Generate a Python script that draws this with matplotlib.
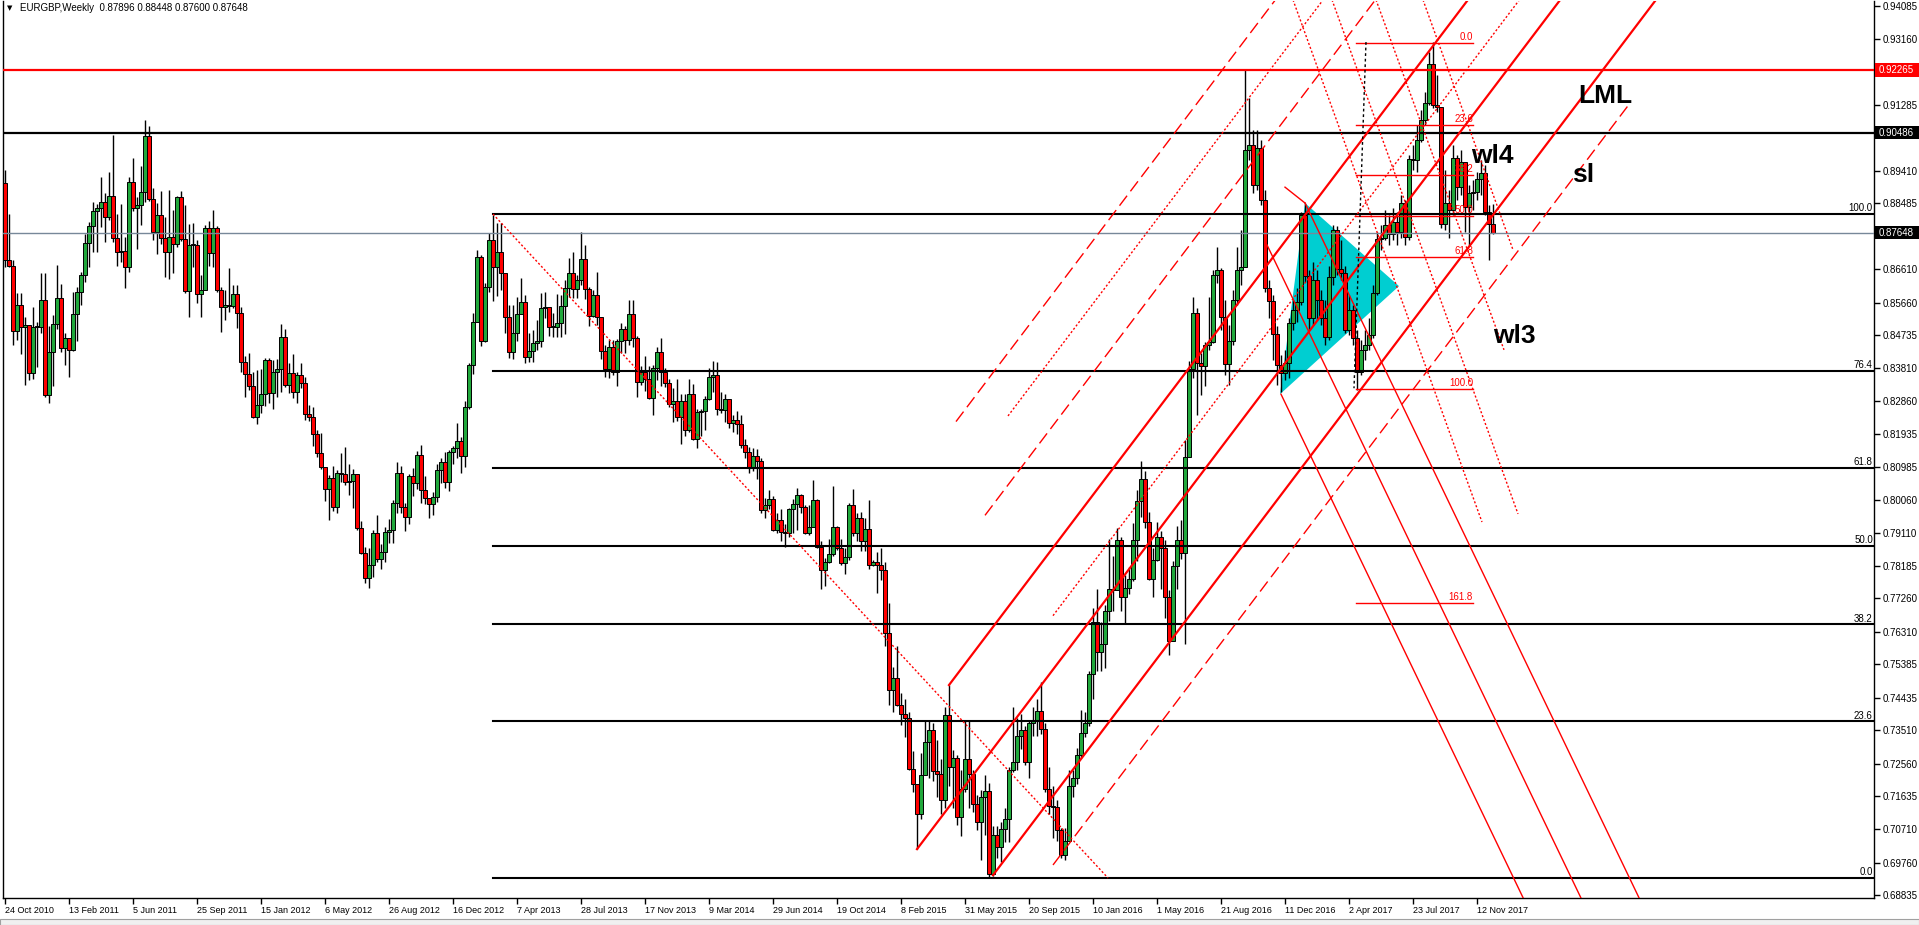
import matplotlib
matplotlib.use("Agg")
import matplotlib.pyplot as plt
import matplotlib.transforms as mtransforms
from matplotlib.patches import Polygon, Rectangle

plt.rcParams['font.family'] = ['Liberation Sans', 'DejaVu Sans']
plt.rcParams['lines.scale_dashes'] = False

# ---- weekly EURGBP candles, open = previous close ----
first_open = 0.8906
closes = [
    0.8687, 0.8670, 0.8486, 0.8559, 0.8497, 0.8502, 0.8366, 0.8497, 0.8497, 0.8574,
    0.8304, 0.8426, 0.8505, 0.8579, 0.8437, 0.8466, 0.8432, 0.8534, 0.8596, 0.8645,
    0.8735, 0.8784, 0.8826, 0.8835, 0.8852, 0.8809, 0.8869, 0.8750, 0.8710, 0.8713,
    0.8667, 0.8909, 0.8835, 0.8843, 0.8880, 0.9039, 0.8860, 0.8767, 0.8815, 0.8750,
    0.8710, 0.8752, 0.8733, 0.8866, 0.8747, 0.8599, 0.8730, 0.8730, 0.8591, 0.8602,
    0.8778, 0.8707, 0.8778, 0.8602, 0.8554, 0.8559, 0.8557, 0.8591, 0.8537, 0.8397,
    0.8363, 0.8329, 0.8241, 0.8275, 0.8307, 0.8403, 0.8309, 0.8369, 0.8378, 0.8468,
    0.8332, 0.8366, 0.8312, 0.8360, 0.8338, 0.8250, 0.8241, 0.8193, 0.8139, 0.8099,
    0.8037, 0.8068, 0.7986, 0.8082, 0.8079, 0.8057, 0.8060, 0.8079, 0.7926, 0.7855,
    0.7784, 0.7821, 0.7912, 0.7838, 0.7858, 0.7915, 0.7920, 0.7997, 0.8082, 0.7986,
    0.7957, 0.8074, 0.8054, 0.8133, 0.8034, 0.8011, 0.7994, 0.8014, 0.8091, 0.8113,
    0.8057, 0.8142, 0.8153, 0.8173, 0.8131, 0.8270, 0.8389, 0.8511, 0.8696, 0.8457,
    0.8610, 0.8744, 0.8667, 0.8710, 0.8650, 0.8525, 0.8426, 0.8480, 0.8534, 0.8568,
    0.8412, 0.8429, 0.8451, 0.8457, 0.8551, 0.8554, 0.8497, 0.8497, 0.8508, 0.8557,
    0.8608, 0.8650, 0.8605, 0.8630, 0.8690, 0.8605, 0.8528, 0.8588, 0.8525, 0.8429,
    0.8378, 0.8440, 0.8369, 0.8457, 0.8491, 0.8460, 0.8534, 0.8466, 0.8341, 0.8369,
    0.8349, 0.8295, 0.8380, 0.8426, 0.8369, 0.8338, 0.8278, 0.8287, 0.8241, 0.8287,
    0.8204, 0.8307, 0.8179, 0.8255, 0.8258, 0.8292, 0.8355, 0.8360, 0.8264, 0.8261,
    0.8292, 0.8224, 0.8233, 0.8221, 0.8162, 0.8142, 0.8099, 0.8131, 0.8116, 0.7977,
    0.7991, 0.8008, 0.7920, 0.7949, 0.7915, 0.7912, 0.7980, 0.7994, 0.8020, 0.7986,
    0.7912, 0.7929, 0.8006, 0.7872, 0.7807, 0.7829, 0.7852, 0.7929, 0.7869, 0.7827,
    0.7844, 0.7991, 0.7912, 0.7954, 0.7889, 0.7923, 0.7821, 0.7829, 0.7821, 0.7807,
    0.7628, 0.7466, 0.7500, 0.7423, 0.7398, 0.7386, 0.7242, 0.7199, 0.7114, 0.7225,
    0.7318, 0.7352, 0.7236, 0.7227, 0.7154, 0.7395, 0.7247, 0.7273, 0.7105, 0.7185,
    0.7270, 0.7227, 0.7142, 0.7091, 0.7162, 0.7179, 0.6943, 0.7054, 0.7020, 0.7071,
    0.7100, 0.7239, 0.7261, 0.7335, 0.7352, 0.7261, 0.7372, 0.7381, 0.7406, 0.7355,
    0.7185, 0.7137, 0.7134, 0.7068, 0.6997, 0.7037, 0.7193, 0.7216, 0.7281, 0.7344,
    0.7372, 0.7511, 0.7659, 0.7574, 0.7597, 0.7690, 0.7753, 0.7750, 0.7892, 0.7730,
    0.7756, 0.7781, 0.7892, 0.8003, 0.8065, 0.7943, 0.7781, 0.7835, 0.7900, 0.7869,
    0.7730, 0.7605, 0.7818, 0.7892, 0.7855, 0.8128, 0.8378, 0.8537, 0.8395, 0.8386,
    0.8446, 0.8454, 0.8645, 0.8659, 0.8525, 0.8392, 0.8457, 0.8574, 0.8659, 0.8667,
    0.9000, 0.9014, 0.8900, 0.9005, 0.8858, 0.8608, 0.8571, 0.8477, 0.8389, 0.8366,
    0.8395, 0.8508, 0.8545, 0.8568, 0.8815, 0.8642, 0.8522, 0.8630, 0.8574, 0.8522,
    0.8468, 0.8639, 0.8772, 0.8662, 0.8650, 0.8488, 0.8545, 0.8466, 0.8369, 0.8432,
    0.8446, 0.8474, 0.8593, 0.8747, 0.8750, 0.8787, 0.8761, 0.8795, 0.8767, 0.8849,
    0.8752, 0.8974, 0.8971, 0.9028, 0.9085, 0.9133, 0.9244, 0.9127, 0.9122, 0.8789,
    0.8849, 0.8829, 0.8977, 0.8894, 0.8965, 0.8838, 0.8877, 0.8880, 0.8917, 0.8934,
    0.8823, 0.87896, 0.87648,
]
highs = [
    0.8943, 0.8818, 0.8687, 0.8593, 0.8593, 0.8525, 0.8502, 0.8554, 0.8511, 0.8650,
    0.8650, 0.8500, 0.8531, 0.8673, 0.8619, 0.8480, 0.8460, 0.8596, 0.8610, 0.8653,
    0.8761, 0.8795, 0.8852, 0.8846, 0.8923, 0.8877, 0.8937, 0.9042, 0.8818, 0.8846,
    0.8752, 0.8923, 0.8977, 0.8866, 0.8954, 0.9085, 0.9068, 0.8892, 0.8849, 0.8883,
    0.8809, 0.8886, 0.8829, 0.8869, 0.8883, 0.8843, 0.8789, 0.8792, 0.8744, 0.8645,
    0.8787, 0.8798, 0.8829, 0.8784, 0.8610, 0.8602, 0.8664, 0.8616, 0.8616, 0.8554,
    0.8415, 0.8423, 0.8369, 0.8375, 0.8378, 0.8409, 0.8409, 0.8403, 0.8406, 0.8505,
    0.8491, 0.8395, 0.8420, 0.8369, 0.8395, 0.8355, 0.8275, 0.8270, 0.8204, 0.8196,
    0.8091, 0.8077, 0.8102, 0.8091, 0.8139, 0.8156, 0.8108, 0.8094, 0.8079, 0.7946,
    0.7872, 0.7869, 0.7920, 0.7963, 0.7881, 0.7929, 0.7952, 0.8006, 0.8113, 0.8102,
    0.7997, 0.8079, 0.8096, 0.8145, 0.8162, 0.8074, 0.8011, 0.8028, 0.8108, 0.8125,
    0.8142, 0.8148, 0.8159, 0.8224, 0.8184, 0.8287, 0.8395, 0.8537, 0.8716, 0.8701,
    0.8622, 0.8764, 0.8815, 0.8792, 0.8792, 0.8602, 0.8559, 0.8559, 0.8582, 0.8636,
    0.8588, 0.8480, 0.8488, 0.8517, 0.8593, 0.8596, 0.8554, 0.8537, 0.8591, 0.8588,
    0.8630, 0.8693, 0.8710, 0.8645, 0.8767, 0.8730, 0.8610, 0.8602, 0.8653, 0.8520,
    0.8446, 0.8460, 0.8460, 0.8463, 0.8508, 0.8500, 0.8574, 0.8574, 0.8471, 0.8386,
    0.8415, 0.8386, 0.8389, 0.8440, 0.8466, 0.8380, 0.8349, 0.8324, 0.8349, 0.8307,
    0.8307, 0.8349, 0.8335, 0.8264, 0.8264, 0.8301, 0.8380, 0.8400, 0.8397, 0.8312,
    0.8307, 0.8292, 0.8247, 0.8258, 0.8247, 0.8179, 0.8156, 0.8153, 0.8150, 0.8125,
    0.8011, 0.8034, 0.8017, 0.7969, 0.7980, 0.7937, 0.7983, 0.8008, 0.8040, 0.8023,
    0.7991, 0.7991, 0.8062, 0.8008, 0.7889, 0.7841, 0.7895, 0.8045, 0.7932, 0.7895,
    0.7869, 0.7997, 0.8037, 0.7969, 0.7971, 0.7954, 0.8006, 0.7835, 0.7858, 0.7869,
    0.7829, 0.7713, 0.7531, 0.7591, 0.7457, 0.7440, 0.7403, 0.7293, 0.7196, 0.7287,
    0.7381, 0.7381, 0.7372, 0.7324, 0.7270, 0.7418, 0.7480, 0.7296, 0.7281, 0.7239,
    0.7381, 0.7381, 0.7239, 0.7168, 0.7182, 0.7225, 0.7202, 0.7080, 0.7080, 0.7091,
    0.7131, 0.7247, 0.7418, 0.7386, 0.7398, 0.7364, 0.7381, 0.7418, 0.7440, 0.7489,
    0.7372, 0.7247, 0.7193, 0.7154, 0.7074, 0.7074, 0.7239, 0.7239, 0.7301, 0.7409,
    0.7403, 0.7520, 0.7699, 0.7753, 0.7659, 0.7707, 0.7895, 0.7847, 0.7926, 0.7900,
    0.7792, 0.7815, 0.7940, 0.8034, 0.8116, 0.8088, 0.7971, 0.7869, 0.7943, 0.7918,
    0.7892, 0.7750, 0.7832, 0.7932, 0.7949, 0.8176, 0.8400, 0.8582, 0.8551, 0.8423,
    0.8454, 0.8582, 0.8659, 0.8724, 0.8664, 0.8574, 0.8502, 0.8602, 0.8724, 0.8772,
    0.9230, 0.9147, 0.9056, 0.9056, 0.9028, 0.8886, 0.8630, 0.8588, 0.8500, 0.8417,
    0.8432, 0.8522, 0.8574, 0.8608, 0.8823, 0.8849, 0.8659, 0.8681, 0.8659, 0.8602,
    0.8574, 0.8670, 0.8787, 0.8784, 0.8744, 0.8670, 0.8588, 0.8559, 0.8488, 0.8460,
    0.8488, 0.8522, 0.8616, 0.8767, 0.8787, 0.8829, 0.8815, 0.8835, 0.8823, 0.8872,
    0.8858, 0.8985, 0.9014, 0.9070, 0.9113, 0.9164, 0.9278, 0.9306, 0.9212, 0.9119,
    0.8943, 0.8886, 0.9014, 0.8985, 0.9000, 0.8943, 0.8900, 0.8914, 0.8937, 0.8971,
    0.8957, 0.8843, 0.88448,
]
lows = [
    0.8667, 0.8667, 0.8446, 0.8460, 0.8420, 0.8332, 0.8346, 0.8349, 0.8383, 0.8480,
    0.8298, 0.8281, 0.8329, 0.8491, 0.8426, 0.8389, 0.8355, 0.8429, 0.8457, 0.8559,
    0.8625, 0.8667, 0.8710, 0.8710, 0.8781, 0.8738, 0.8801, 0.8738, 0.8670, 0.8681,
    0.8608, 0.8653, 0.8826, 0.8718, 0.8787, 0.8852, 0.8855, 0.8744, 0.8704, 0.8733,
    0.8639, 0.8633, 0.8650, 0.8724, 0.8741, 0.8593, 0.8525, 0.8667, 0.8565, 0.8525,
    0.8602, 0.8670, 0.8667, 0.8596, 0.8483, 0.8517, 0.8539, 0.8551, 0.8494, 0.8369,
    0.8298, 0.8318, 0.8238, 0.8221, 0.8253, 0.8273, 0.8281, 0.8264, 0.8298, 0.8312,
    0.8326, 0.8309, 0.8295, 0.8281, 0.8324, 0.8233, 0.8230, 0.8159, 0.8128, 0.8094,
    0.8003, 0.7949, 0.7974, 0.7969, 0.8057, 0.8048, 0.8020, 0.7983, 0.7920, 0.7852,
    0.7770, 0.7756, 0.7787, 0.7829, 0.7810, 0.7829, 0.7883, 0.7883, 0.7969, 0.7969,
    0.7918, 0.7937, 0.8017, 0.8037, 0.7997, 0.7994, 0.7954, 0.7963, 0.8000, 0.8054,
    0.8040, 0.8031, 0.8108, 0.8125, 0.8082, 0.8099, 0.8264, 0.8363, 0.8522, 0.8443,
    0.8454, 0.8596, 0.8571, 0.8585, 0.8602, 0.8480, 0.8409, 0.8406, 0.8457, 0.8537,
    0.8395, 0.8397, 0.8397, 0.8432, 0.8440, 0.8522, 0.8471, 0.8468, 0.8468, 0.8468,
    0.8477, 0.8582, 0.8579, 0.8579, 0.8616, 0.8576, 0.8500, 0.8525, 0.8502, 0.8406,
    0.8355, 0.8352, 0.8360, 0.8329, 0.8423, 0.8423, 0.8446, 0.8440, 0.8298, 0.8332,
    0.8315, 0.8292, 0.8247, 0.8346, 0.8329, 0.8326, 0.8270, 0.8227, 0.8230, 0.8165,
    0.8187, 0.8199, 0.8176, 0.8153, 0.8187, 0.8204, 0.8290, 0.8312, 0.8247, 0.8253,
    0.8227, 0.8210, 0.8199, 0.8193, 0.8153, 0.8125, 0.8082, 0.8088, 0.8065, 0.7969,
    0.7954, 0.7980, 0.7918, 0.7912, 0.7889, 0.7872, 0.7900, 0.7912, 0.7920, 0.7969,
    0.7909, 0.7906, 0.7937, 0.7869, 0.7753, 0.7761, 0.7827, 0.7847, 0.7864, 0.7821,
    0.7795, 0.7835, 0.7903, 0.7889, 0.7861, 0.7861, 0.7810, 0.7818, 0.7741, 0.7778,
    0.7591, 0.7423, 0.7403, 0.7421, 0.7367, 0.7332, 0.7239, 0.7176, 0.7014, 0.7100,
    0.7225, 0.7216, 0.7208, 0.7162, 0.7114, 0.7131, 0.7193, 0.7131, 0.7083, 0.7051,
    0.7176, 0.7131, 0.7119, 0.7068, 0.6983, 0.7054, 0.6935, 0.6938, 0.6989, 0.6977,
    0.7034, 0.7034, 0.7233, 0.7239, 0.7298, 0.7253, 0.7216, 0.7335, 0.7335, 0.7341,
    0.7176, 0.7114, 0.7046, 0.7037, 0.6989, 0.6983, 0.7040, 0.7162, 0.7199, 0.7273,
    0.7332, 0.7364, 0.7440, 0.7520, 0.7520, 0.7528, 0.7662, 0.7690, 0.7753, 0.7690,
    0.7653, 0.7739, 0.7776, 0.7832, 0.7957, 0.7926, 0.7778, 0.7730, 0.7832, 0.7753,
    0.7670, 0.7565, 0.7605, 0.7753, 0.7838, 0.7597, 0.8173, 0.8352, 0.8247, 0.8304,
    0.8329, 0.8432, 0.8451, 0.8622, 0.8488, 0.8360, 0.8332, 0.8446, 0.8559, 0.8616,
    0.8681, 0.8971, 0.8877, 0.8886, 0.8843, 0.8596, 0.8522, 0.8403, 0.8332, 0.8312,
    0.8346, 0.8352, 0.8488, 0.8511, 0.8559, 0.8625, 0.8488, 0.8502, 0.8517, 0.8502,
    0.8446, 0.8460, 0.8616, 0.8645, 0.8630, 0.8480, 0.8474, 0.8446, 0.8318, 0.8360,
    0.8403, 0.8432, 0.8466, 0.8588, 0.8716, 0.8744, 0.8730, 0.8744, 0.8730, 0.8750,
    0.8730, 0.8744, 0.8943, 0.8937, 0.9022, 0.9070, 0.9127, 0.9119, 0.9107, 0.8778,
    0.8772, 0.8750, 0.8815, 0.8858, 0.8872, 0.8767, 0.8730, 0.8829, 0.8858, 0.8872,
    0.8815, 0.8687, 0.87600,
]

date_labels = ["24 Oct 2010", "13 Feb 2011", "5 Jun 2011", "25 Sep 2011", "15 Jan 2012",
               "6 May 2012", "26 Aug 2012", "16 Dec 2012", "7 Apr 2013", "28 Jul 2013",
               "17 Nov 2013", "9 Mar 2014", "29 Jun 2014", "19 Oct 2014", "8 Feb 2015",
               "31 May 2015", "20 Sep 2015", "10 Jan 2016", "1 May 2016", "21 Aug 2016",
               "11 Dec 2016", "2 Apr 2017", "23 Jul 2017", "12 Nov 2017"]
bars_per_label = 16

price_ticks = [0.94085, 0.93160, 0.92235, 0.91285, 0.90360, 0.89410, 0.88485, 0.87560,
               0.86610, 0.85660, 0.84735, 0.83810, 0.82860, 0.81935, 0.80985, 0.80060,
               0.79110, 0.78185, 0.77260, 0.76310, 0.75385, 0.74435, 0.73510, 0.72560,
               0.71635, 0.70710, 0.69760, 0.68835]
hidden_ticks = [0.92235, 0.90360, 0.87560]   # covered by the price boxes

# horizontal levels
red_level = 0.92265
black_level = 0.90486
bid_level = 0.87648

# big black fibonacci (Feb 2013 high -> 2015 low)
fib_bar_start = 122
fib_100, fib_0 = 0.88175, 0.69320
fib_trend_end_bar = 275.75
fib_levels = [0.0, 23.6, 38.2, 50.0, 61.8, 76.4, 100.0]

# small red fibonacci (Apr 2017 low -> Aug 2017 high)
rfib_bar_start, rfib_bar_end = 337.75, 367.0
rfib_0, rfib_100 = 0.9303, 0.8321
rfib_levels = [0.0, 23.6, 38.2, 50.0, 61.8, 100.0, 161.8]
rfib_trend_bars = [340.25, 337.25]
rfib_trend_prices = [0.9306, 0.8323]

# rising pitchfork: median, upper, lower anchors and slope per bar
fork_bars = [228, 236, 247]
fork_prices = [0.7014, 0.7480, 0.6940]
fork_slope = 0.0015
# extra parallel lines: offset from median, start bar, end bar, style
par_offsets = [0.1068, 0.0889, 0.0693, 0.0153, -0.0555]
par_start = [237.75, 250.75, 245.0, 262.0, 262.0]
par_end = [470, 470, 470, 470, 405.75]
par_style = ['dash', 'dot', 'dash', 'dot', 'dash']

# falling pitchfork (thin solid): start bar, start price; common slope per bar
fall_bars = [319.0, 315.5, 325.0]
fall_prices = [0.8306, 0.8730, 0.8849]
fall_slope = -0.002363
# short handle segment near the Jan 2017 high
handle_bars = [320.0, 325.0]
handle_prices = [0.8894, 0.8849]

# falling dotted warning lines (start bar, start price, end bar, end price)
warn_lines = [(322.0, 0.9426, 369.25, 0.7943),
              (331.75, 0.9426, 378.25, 0.7966),
              (342.75, 0.9426, 374.75, 0.8432),
              (354.5, 0.9426, 377.0, 0.8716)]

# cyan triangle
tri_bars = [325.0, 348.5, 318.75]
tri_prices = [0.8849, 0.8613, 0.8306]

labels_txt = ["LML", "wl4", "sl", "wl3"]
labels_bar = [393.25, 366.5, 391.75, 372.0]
labels_price = [0.9133, 0.8963, 0.8909, 0.8451]

# ---------------------------------------------------------------------------
W, H = 1919, 925
fig = plt.figure(figsize=(W / 100, H / 100), dpi=100)
fig.patch.set_facecolor('white')
ax = fig.add_axes([3 / W, 27 / H, 1871 / W, 897 / H])
xmin, xmax = -0.5, 467.25
ymin, ymax = 0.68752, 0.94227
ax.set_xlim(xmin, xmax)
ax.set_ylim(ymin, ymax)

n = len(closes)
idx = list(range(n))
opens = [first_open] + closes[:-1]

DASH = (0, (9, 4))
DOT = (0, (1.5, 1.5))

# background triangle
ax.add_patch(Polygon(list(zip(tri_bars, tri_prices)), closed=True,
                     facecolor='#00CED1', edgecolor='none', zorder=1))

# candles
wick_lo = [min(l, o, c) for l, o, c in zip(lows, opens, closes)]
wick_hi = [max(h, o, c) for h, o, c in zip(highs, opens, closes)]
ax.vlines(idx, wick_lo, wick_hi, color='black', linewidth=1, zorder=3)
body_bottom = [min(o, c) for o, c in zip(opens, closes)]
body_height = [max(abs(c - o), 0.00015) for o, c in zip(opens, closes)]
body_color = ['#21A83C' if c >= o else '#FF0000' for o, c in zip(opens, closes)]
ax.bar(idx, body_height, bottom=body_bottom, width=0.78, color=body_color,
       edgecolor='black', linewidth=0.7, zorder=4)

# horizontal lines
ax.axhline(red_level, color='red', linewidth=1.6, zorder=5)
ax.axhline(black_level, color='black', linewidth=1.6, zorder=5)
ax.axhline(bid_level, color='#778899', linewidth=1, zorder=5)

# big black fibonacci
for lev in fib_levels:
    p = fib_0 + (fib_100 - fib_0) * lev / 100.0
    ax.plot([fib_bar_start, xmax], [p, p], color='black', linewidth=1.5, zorder=5)
    ax.text(xmax - 0.3, p + 0.0002, f"{lev:.1f}", ha='right', va='bottom',
            fontsize=7, zorder=6)
ax.plot([fib_bar_start, fib_trend_end_bar], [fib_100, fib_0], color='red',
        linewidth=1, linestyle=DOT, zorder=5)

# rising pitchfork
for b, p in zip(fork_bars, fork_prices):
    ax.plot([b, xmax], [p, p + fork_slope * (xmax - b)], color='red',
            linewidth=1.6, zorder=5)
med_b, med_p = fork_bars[0], fork_prices[0]
for off, b0, b1, st in zip(par_offsets, par_start, par_end, par_style):
    p0 = med_p + off + fork_slope * (b0 - med_b)
    p1 = med_p + off + fork_slope * (b1 - med_b)
    ax.plot([b0, b1], [p0, p1], color='red', linewidth=1,
            linestyle=DASH if st == 'dash' else DOT, zorder=5)

# falling pitchfork
for b, p in zip(fall_bars, fall_prices):
    b_end = b + (ymin - p) / fall_slope
    ax.plot([b, b_end], [p, ymin], color='red', linewidth=1, zorder=5)
ax.plot(handle_bars, handle_prices, color='red', linewidth=1, zorder=5)
for b0, p0, b1, p1 in warn_lines:
    ax.plot([b0, b1], [p0, p1], color='red', linewidth=1, linestyle=DOT, zorder=5)

# small red fibonacci
for lev in rfib_levels:
    p = rfib_0 + (rfib_100 - rfib_0) * lev / 100.0
    ax.plot([rfib_bar_start, rfib_bar_end], [p, p], color='red', linewidth=1, zorder=5)
    ax.text(rfib_bar_end, p + 0.0003, f"{lev:.1f}", ha='right', va='bottom',
            fontsize=7, color='red', zorder=6)
ax.plot(rfib_trend_bars, rfib_trend_prices, color='black', linewidth=1,
        linestyle=(0, (2, 2)), zorder=5)

# annotations
for t, b, p in zip(labels_txt, labels_bar, labels_price):
    ax.text(b, p, t, fontsize=19, fontweight='bold', ha='left', va='baseline', zorder=7)

# axes styling
for side in ['left', 'bottom', 'right']:
    ax.spines[side].set_color('black')
    ax.spines[side].set_linewidth(1)
ax.spines['top'].set_visible(False)
ax.yaxis.tick_right()
ax.set_yticks(price_ticks)
ax.set_yticklabels(["" if t in hidden_ticks else f"{t:.5f}" for t in price_ticks])
ax.tick_params(axis='y', direction='out', length=4, width=1, labelsize=7, pad=2)
ax.set_xticks([k * bars_per_label for k in range(len(date_labels))])
ax.set_xticklabels(date_labels)
ax.tick_params(axis='x', direction='out', length=4, width=1, labelsize=6.5, pad=2)
for lab in ax.get_xticklabels():
    lab.set_horizontalalignment('left')

# price boxes on the right scale
trans = mtransforms.blended_transform_factory(fig.transFigure, ax.transData)
for price, bg in [(red_level, 'red'), (black_level, 'black'), (bid_level, 'black')]:
    fig.add_artist(Rectangle((1875 / W, price - 0.0019), 44 / W, 0.0038,
                             transform=trans, facecolor=bg, edgecolor='none',
                             zorder=10, clip_on=False))
    fig.text(1879 / W, price, f"{price:.5f}", transform=trans, color='white',
             fontsize=7, va='center', ha='left', zorder=11)

# header
fig.text(7 / W, 1 - 8 / H, "\u25BC", fontsize=5, va='center', ha='left',
         family=['DejaVu Sans'])
fig.text(20 / W, 1 - 8 / H, "EURGBP,Weekly  0.87896 0.88448 0.87600 0.87648",
         fontsize=7, va='center', ha='left')

# bottom tab strip
fig.add_artist(Rectangle((0, 0), 1, 6 / H, transform=fig.transFigure,
                         facecolor='#F0F0F0', edgecolor='#A0A0A0', linewidth=0.8))

fig.savefig('out.png', dpi=100)
